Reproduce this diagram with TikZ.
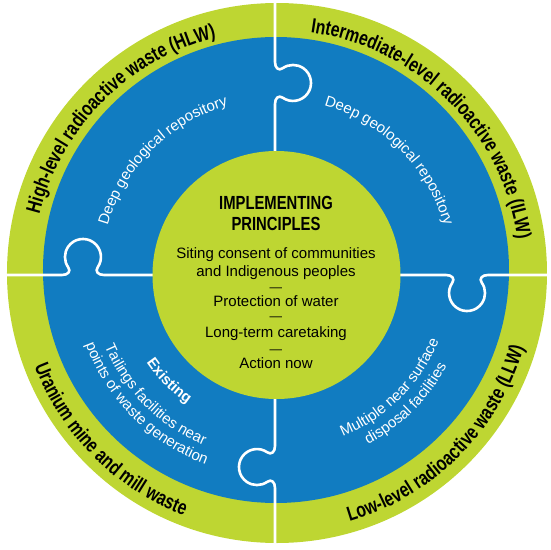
\documentclass[tikz,border=0pt]{standalone}
\usepackage{fontspec}
\setmainfont{Liberation Sans}
\newfontfamily\condA[FakeStretch=0.77]{Liberation Sans}
\newfontfamily\condB[FakeStretch=0.78]{Liberation Sans}
\usetikzlibrary{decorations.text}
\definecolor{lime}{RGB}{190,214,50}
\definecolor{ringblue}{RGB}{17,124,193}
\newcommand\ringfont{\condA\bfseries\fontsize{20.5}{22}\selectfont\color{black}}
\newcommand\bluefont{\fontsize{15}{17}\selectfont\color{white}}
\newcommand\blueboldfont{\bfseries\fontsize{15}{17}\selectfont\color{white}}
\newcommand\titlefont{\condB\bfseries\fontsize{19}{21}\selectfont}
\newcommand\bodyfont{\fontsize{15}{17}\selectfont}
\newcommand\dashfont{\fontsize{12.5}{14}\selectfont}
\tikzset{
  seam/.style={draw=white, line width=2.6pt, line join=round},
  arctext/.style={decorate, decoration={text along path, text align=center, text={#1}}},
  titletext/.style={font=\titlefont, text=black, inner sep=0pt, anchor=base},
  bodytext/.style={font=\bodyfont, text=black, inner sep=0pt, anchor=base},
  dashtext/.style={font=\dashfont, text=black, inner sep=0pt, anchor=base},
  pics/knobray/.style={code={
    \draw[seam] (118,0) -- (171,0) .. controls (177,0) and (180.2,-3.6) .. (177.3,-7.7)
      arc[start angle=145, end angle=395, radius=18]
      .. controls (203.8,-3.6) and (207,0) .. (213,0) -- (280,0);
  }}
}
\begin{document}
\begin{tikzpicture}[x=1pt,y=1pt]
\useasboundingbox (-276,-276) rectangle (274,274);
% discs
\fill[lime] (1,1) circle[radius=270];
\fill[ringblue] (0,4) circle[radius=233];
% puzzle seams
\pic[rotate=0]   at (-1,-1) {knobray};
\pic[rotate=90]  at (-1,-1) {knobray};
\pic[rotate=180] at (-1,-1) {knobray};
\pic[rotate=270] at (-1,-1) {knobray};
\fill[lime] (0.5,-1) circle[radius=124];
% outer ring labels
\path[arctext={|\ringfont|High-level radioactive waste (HLW)}]
  (195:244) arc[start angle=195, end angle=75, radius=244];
\path[arctext={|\ringfont|Intermediate-level radioactive waste (ILW)}]
  (105:244) arc[start angle=105, end angle=-15, radius=244];
\path[arctext={|\ringfont|Low-level radioactive waste (LLW)}]
  (-105:258.5) arc[start angle=-105, end angle=15, radius=258.5];
\path[arctext={|\ringfont|Uranium mine and mill waste}]
  (-195:258.5) arc[start angle=-195, end angle=-75, radius=258.5];
% blue ring labels
\path[arctext={|\bluefont|Deep geological repository}]
  (195:175) arc[start angle=195, end angle=75, radius=175];
\path[arctext={|\bluefont|Deep geological repository}]
  (105:175) arc[start angle=105, end angle=-15, radius=175];
\path[arctext={|\bluefont|Multiple near surface}]
  (-105:176) arc[start angle=-105, end angle=15, radius=176];
\path[arctext={|\bluefont|disposal facilities}]
  (-105:194) arc[start angle=-105, end angle=15, radius=194];
\path[arctext={|\blueboldfont|Existing}]
  (-195:157) arc[start angle=-195, end angle=-75, radius=157];
\path[arctext={|\bluefont|Tailings facilities near}]
  (-195:186) arc[start angle=-195, end angle=-75, radius=186];
\path[arctext={|\bluefont|points of waste generation}]
  (-195:203) arc[start angle=-195, end angle=-75, radius=203];
% centre
\node[titletext] (t1) at (0,65) {IMPLEMENTING};
\node[titletext] (t2) at (0,44) {PRINCIPLES};
\node[bodytext] (b1) at (0,15.7) {Siting consent of communities};
\node[bodytext] (b2) at (0,-2) {and Indigenous peoples};
\node[dashtext] (d1) at (0,-17) {—};
\node[bodytext] (b3) at (0,-32.7) {Protection of water};
\node[dashtext] (d2) at (0,-46) {—};
\node[bodytext] (b4) at (0,-63.3) {Long-term caretaking};
\node[dashtext] (d3) at (0,-79) {—};
\node[bodytext] (b5) at (0,-94.3) {Action now};
\end{tikzpicture}
\end{document}
